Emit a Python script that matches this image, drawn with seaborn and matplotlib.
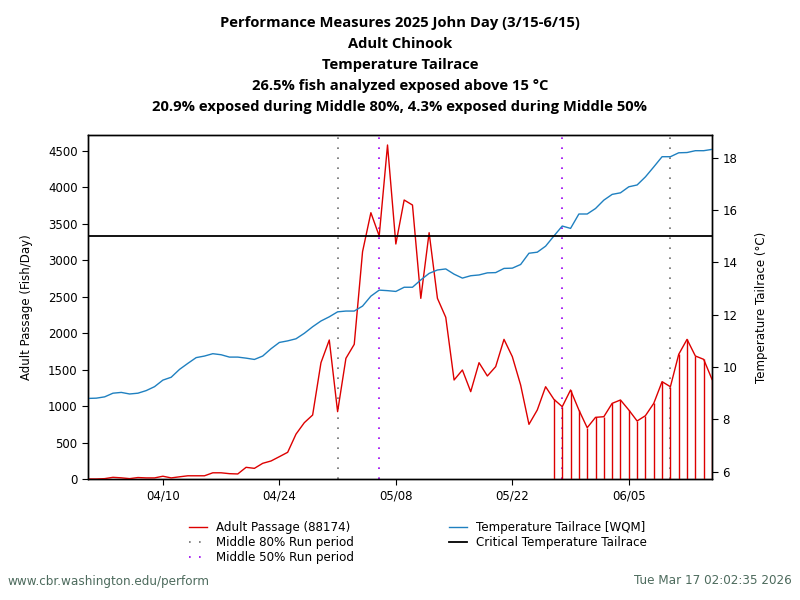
import matplotlib
matplotlib.use("Agg")
import matplotlib.pyplot as plt
import matplotlib.dates as mdates
from matplotlib.lines import Line2D
import numpy as np
import pandas as pd
import seaborn as sns

# ---------------- data ----------------
start_date = "2025-04-01"
passage = [0, 0, 5, 23, 16, 5, 20, 15, 15, 38, 15, 30, 44, 44, 44, 85, 85, 73, 69, 160,
           146, 215, 247, 306, 366, 615, 772, 877, 1594, 1905, 923, 1654, 1846, 3116, 3650,
           3331, 4578, 3221, 3824, 3755, 2476, 3376, 2476, 2216, 1357, 1494, 1197, 1594, 1412,
           1540, 1914, 1677, 1288, 749, 946, 1265, 1092, 991, 1220, 946, 703, 845, 854, 1037,
           1083, 946, 795, 868, 1037, 1334, 1265, 1709, 1914, 1686, 1640, 1366]
temperature = [8.80, 8.81, 8.86, 9.00, 9.03, 8.97, 9.00, 9.10, 9.25, 9.50, 9.61, 9.91, 10.14,
               10.36, 10.42, 10.51, 10.47, 10.38, 10.38, 10.34, 10.29, 10.42, 10.70, 10.94,
               11.00, 11.08, 11.29, 11.54, 11.76, 11.92, 12.11, 12.14, 12.14, 12.33, 12.71,
               12.94, 12.92, 12.89, 13.05, 13.05, 13.33, 13.58, 13.71, 13.75, 13.55, 13.40,
               13.49, 13.52, 13.60, 13.61, 13.77, 13.78, 13.92, 14.35, 14.39, 14.62, 15.01,
               15.39, 15.30, 15.85, 15.85, 16.06, 16.38, 16.60, 16.66, 16.89, 16.96, 17.27,
               17.65, 18.04, 18.04, 18.19, 18.20, 18.27, 18.27, 18.32]
critical_temp = 15.0
middle80 = ["2025-05-01", "2025-06-10"]
middle50 = ["2025-05-06", "2025-05-28"]
tick_dates = ["2025-04-10", "2025-04-24", "2025-05-08", "2025-05-22", "2025-06-05"]
x_range = ["2025-04-01", "2025-06-15"]
left_yticks = [0, 500, 1000, 1500, 2000, 2500, 3000, 3500, 4000, 4500]
right_yticks = [6, 8, 10, 12, 14, 16, 18]

title_lines = ["Performance Measures 2025 John Day (3/15-6/15)",
               "Adult Chinook",
               "Temperature Tailrace",
               "26.5% fish analyzed exposed above 15 \u00b0C",
               "20.9% exposed during Middle 80%, 4.3% exposed during Middle 50%"]

# ---------------- figure ----------------
RED = "#dd0000"
BLUE = "#1f80c0"
GREY = "#6f6f6f"
PURPLE = "#9a00f0"
DOTS = (0, (1, 5))

df = pd.DataFrame({
    "date": pd.date_range(start_date, periods=len(passage), freq="D"),
    "passage": passage,
    "temperature": temperature,
})

plt.rcParams["font.family"] = ["DejaVu Sans"]
fig = plt.figure(figsize=(8, 6), dpi=100)
ax = fig.add_axes([88 / 800, 1 - 479 / 600, 624 / 800, 344 / 600])
ax2 = ax.twinx()

sns.lineplot(data=df, x="date", y="passage", ax=ax, color=RED, linewidth=1.0, zorder=3)
hot = df[df["temperature"] > critical_temp]
ax.vlines(hot["date"], 0, hot["passage"], color=RED, linewidth=1.0, zorder=3)

for d in middle80:
    ax.axvline(pd.Timestamp(d), color=GREY, linestyle=DOTS, linewidth=1.2, zorder=2)
for d in middle50:
    ax.axvline(pd.Timestamp(d), color=PURPLE, linestyle=DOTS, linewidth=1.2, zorder=2)

sns.lineplot(data=df, x="date", y="temperature", ax=ax2, color=BLUE, linewidth=1.0)
ax2.axhline(critical_temp, color="black", linewidth=1.3)

ax.set_xlim(pd.Timestamp(x_range[0]), pd.Timestamp(x_range[1]))
ax.set_ylim(0, 4715)
ax2.set_ylim(5.72, 18.87)
ax.set_xticks([pd.Timestamp(t) for t in tick_dates])
ax.xaxis.set_major_formatter(mdates.DateFormatter("%m/%d"))
ax.set_yticks(left_yticks)
ax2.set_yticks(right_yticks)

for a in (ax, ax2):
    a.tick_params(labelsize=8.5, length=4, width=0.8)
    for s in a.spines.values():
        s.set_linewidth(1.0)

ax.set_xlabel("")
ax.set_ylabel("Adult Passage (Fish/Day)", fontsize=8.5, labelpad=11)
ax2.set_ylabel("Temperature Tailrace (\u00b0C)", fontsize=8.5, labelpad=13)

ys = [23, 44, 65, 86, 107]
for line, y in zip(title_lines, ys):
    fig.text(0.5, 1 - y / 600, line, ha="center", va="center", fontsize=10.6,
             fontweight="bold", family="Open Sans")

handles = [
    Line2D([], [], color=RED, linewidth=1.0),
    Line2D([], [], color=GREY, linestyle=DOTS, linewidth=1.2),
    Line2D([], [], color=PURPLE, linestyle=DOTS, linewidth=1.2),
    Line2D([], [], color=BLUE, linewidth=1.0),
    Line2D([], [], color="black", linewidth=1.3),
]
labels = ["Adult Passage (88174)", "Middle 80% Run period", "Middle 50% Run period",
          "Temperature Tailrace [WQM]", "Critical Temperature Tailrace"]
fig.legend(handles, labels, ncol=2, loc="upper center", bbox_to_anchor=(0.5225, 1 - 521 / 600),
           frameon=False, fontsize=8.6, handlelength=1.5, handletextpad=0.75,
           columnspacing=8.0, labelspacing=0.17, borderaxespad=0, borderpad=0)

fig.text(8 / 800, 1 - 581 / 600, "www.cbr.washington.edu/perform", ha="left", va="center",
         fontsize=8.65, color="#4d6b5d")
fig.text(792 / 800, 1 - 581 / 600, "Tue Mar 17 02:02:35 2026", ha="right", va="center",
         fontsize=8.65, color="#4d6b5d")

fig.savefig("out.png", dpi=100)
